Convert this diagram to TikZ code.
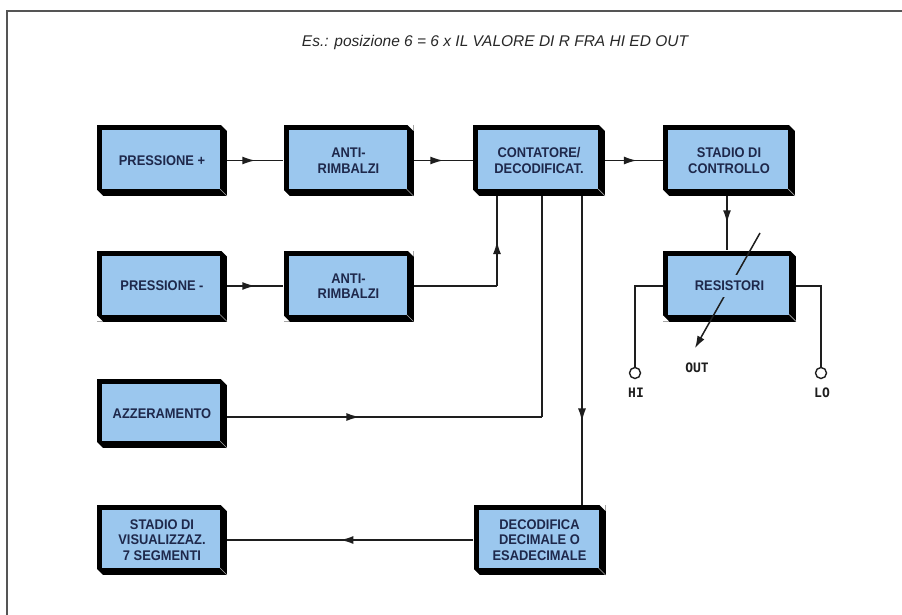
\documentclass[tikz,border=0pt]{standalone}
\usepackage{fontspec}
\setmainfont{Liberation Sans}
\newfontfamily\boxfont{Liberation Sans}[FakeStretch=0.92]
\newfontfamily\techfont{DejaVu Sans Mono}
\usetikzlibrary{arrows.meta,decorations.markings,calc}
\definecolor{boxblue}{RGB}{155,199,238}
\definecolor{boxtext}{RGB}{30,40,75}
\definecolor{wirecol}{RGB}{30,30,30}
\definecolor{framegray}{RGB}{85,85,85}
\definecolor{titlegray}{RGB}{40,40,40}
\tikzset{
  blk/.style={rectangle, minimum width=130pt, minimum height=71pt, inner sep=0pt,
    fill=black, align=center, text=boxtext,
    font=\boxfont\bfseries\fontsize{14}{15.5}\selectfont,
    path picture={
      \fill[white] (path picture bounding box.north east) -- ++(-6pt,0pt) -- ++(6pt,-6pt) -- cycle;
      \fill[white] (path picture bounding box.south west) -- ++(6pt,0pt) -- ++(-6pt,6pt) -- cycle;
      \fill[boxblue] ($(path picture bounding box.north west)+(5pt,-5pt)$) rectangle ($(path picture bounding box.south east)+(-7pt,7pt)$);
      \draw[gray!70, line width=0.7pt] ($(path picture bounding box.south east)+(-7pt,7pt)$) -- (path picture bounding box.south east);
    }},
  wire/.style={draw=wirecol, line width=1.5pt},
  midarrow/.style={postaction={decorate}, decoration={markings,
      mark=at position #1 with {\arrow{Latex[length=13pt,width=8pt]}}}},
  midarrow/.default=0.5,
  term/.style={circle, draw=wirecol, line width=1.4pt, fill=white, minimum size=11pt, inner sep=0pt},
  techlbl/.style={font=\techfont\bfseries\fontsize{13}{15}\selectfont, text=wirecol, inner sep=1pt},
  rlabel/.style={fill=boxblue, inner xsep=1pt, inner ysep=6pt, text=boxtext,
    font=\boxfont\bfseries\fontsize{14}{15.5}\selectfont}
}
\begin{document}
\begin{tikzpicture}[x=1pt,y=-1pt]
\useasboundingbox (0,0) rectangle (902,615);
\fill[white] (0,0) rectangle (902,615);
% frame
\draw[framegray, line width=2pt] (7,615) -- (7,11) -- (902,11);
% title
\node[font=\itshape\fontsize{15.5}{18}\selectfont, text=titlegray] (title) at (495,42)
  {Es.: posizione 6 = 6 x IL VALORE DI R FRA HI ED OUT};
% boxes
\node[blk] (p1)  at (162,160.5) {PRESSIONE +};
\node[blk] (a1)  at (348.5,160.5) {ANTI-\\RIMBALZI};
\node[blk, minimum width=132pt] (cnt) at (539,160.5) {CONTATORE/\\DECODIFICAT.};
\node[blk, minimum width=132pt] (stc) at (729,160.5) {STADIO DI\\CONTROLLO};
\node[blk] (p2)  at (162,286) {PRESSIONE -};
\node[blk] (a2)  at (348.5,286) {ANTI-\\RIMBALZI};
\node[blk, minimum width=133pt] (res) at (729.5,286) {};
\node[blk, minimum height=69pt] (az) at (162,413.5) {AZZERAMENTO};
\node[blk, minimum height=70pt] (vis) at (162,540) {STADIO DI\\VISUALIZZAZ.\\7 SEGMENTI};
\node[blk, minimum width=132pt, minimum height=70pt] (dec) at (539.5,540) {DECODIFICA\\DECIMALE O\\ESADECIMALE};
% coordinates
\coordinate (j1) at (497,286);
\coordinate (j2) at (542,417);
\coordinate (c3) at (582,300);
\coordinate (c4) at (727,220);
\coordinate (dstart) at (760,233);
\coordinate (dend) at (695,348);
% connectors
\draw[wire, midarrow] (p1) -- (a1);
\draw[wire, midarrow] (a1) -- (cnt);
\draw[wire, midarrow=0.55] (cnt) -- (stc);
\draw[wire, midarrow] (p2) -- (a2);
\draw[wire] (a2) -- (j1);
\draw[wire, midarrow] (j1) -- (j1 |- cnt.south);
\draw[wire, midarrow=0.42] (az.east |- j2) -- (j2);
\draw[wire] (j2) -- (j2 |- cnt.south);
\draw[wire, midarrow=0.73] (c3 |- cnt.south) -- (c3 |- dec.north);
\draw[wire, midarrow=0.54] (dec) -- (vis);
\draw[wire, midarrow=0.5] (c4 |- stc.south) -- (c4 |- res.north);
% variable resistor arrow
\draw[wire, -{Latex[length=12pt,width=8pt]}] (dstart) -- (dend);
\node[rlabel] (reslbl) at (res) {RESISTORI};
% terminals
\node[term] (hi) at (635,373) {};
\node[term] (lo) at (821,373) {};
\draw[wire] (res.west) -| (hi.north);
\draw[wire] (res.east) -| (lo.north);
\node[techlbl] (hil) at (636,393) {HI};
\node[techlbl] (lol) at (822,393) {LO};
\node[techlbl] (outl) at (697,368) {OUT};
\end{tikzpicture}
\end{document}
